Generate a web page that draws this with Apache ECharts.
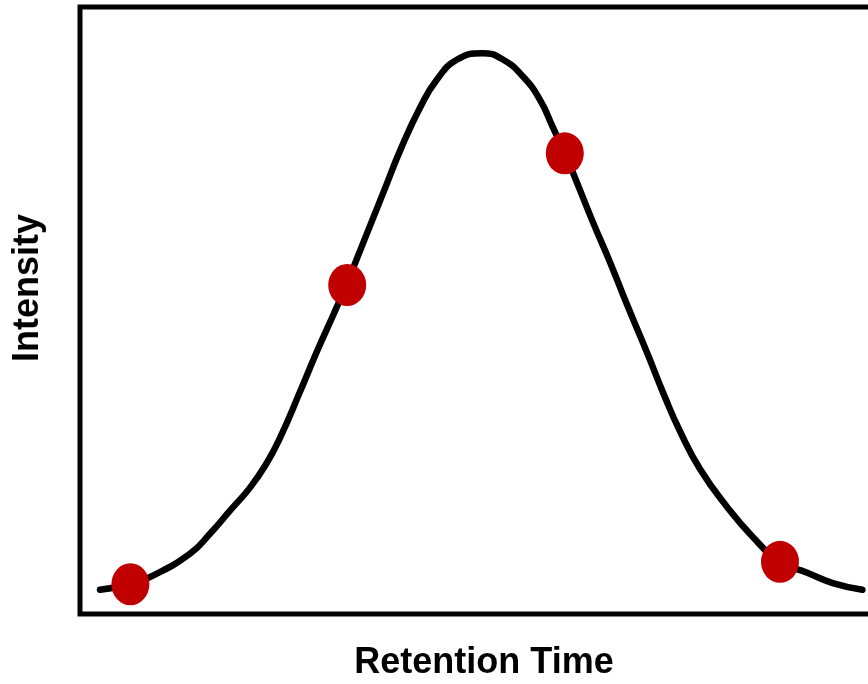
<!DOCTYPE html>
<html>
<head>
<meta charset="utf-8">
<script src="https://cdn.jsdelivr.net/npm/echarts@6/dist/echarts.min.js"></script>
<style>
  html, body { margin: 0; padding: 0; background: #ffffff; }
  #chart { width: 868px; height: 684px; }
</style>
</head>
<body>
<div id="chart"></div>
<script>
// Chromatographic peak: retention time (arbitrary units) vs. intensity (%)
const peakTime = [2.5, 6.3, 8.8, 13.8, 16.3, 18.8, 21.3, 23.4, 25.0, 27.5, 29.6, 31.6, 33.4, 34.6,
  36.3, 38.3, 40.0, 42.5, 44.6, 47.1, 50.3, 52.9, 55.4, 57.5, 59.1, 60.6, 61.9, 64.1, 66.3, 68.4,
  70.9, 73.0, 75.0, 77.5, 80.9, 84.1, 87.5, 90.9, 94.1, 97.8];
const peakIntensity = [4.0, 4.9, 6.1, 10.0, 13.3, 17.1, 20.9, 25.0, 29.0, 36.6, 43.2, 49.1, 54.5, 58.5,
  64.1, 70.7, 76.3, 83.4, 88.0, 91.3, 92.4, 91.3, 88.5, 84.7, 80.2, 75.9, 71.8, 64.6, 57.8, 50.9,
  43.0, 36.1, 30.1, 23.9, 17.6, 12.7, 8.6, 6.8, 5.1, 4.0];

// Sampled acquisition points across the peak
const sampleTime = [6.3, 33.4, 60.6, 87.5];
const sampleIntensity = [4.9, 54.2, 75.9, 8.6];

const xLabel = 'Retention Time';
const yLabel = 'Intensity';

const chart = echarts.init(document.getElementById('chart'), null, { renderer: 'canvas' });

const hidden = {
  axisTick: { show: false },
  axisLabel: { show: false },
  splitLine: { show: false },
  axisLine: { show: false }
};

chart.setOption({
  animation: false,
  backgroundColor: '#ffffff',
  grid: {
    left: 80, right: -20, top: 7, bottom: 70,
    containLabel: false,
    outerBoundsMode: 'none',
    show: true,
    borderColor: '#000000',
    borderWidth: 5,
    backgroundColor: 'transparent'
  },
  xAxis: Object.assign({
    type: 'value', min: 0, max: 101,
    name: xLabel,
    nameLocation: 'middle',
    nameGap: 31,
    nameTextStyle: {
      fontFamily: 'Liberation Sans, Arial, sans-serif',
      fontWeight: 'bold', fontSize: 36, color: '#000000'
    }
  }, hidden),
  yAxis: Object.assign({ type: 'value', min: 0, max: 100 }, hidden),
  graphic: [{
    type: 'text',
    x: 28, y: 288,
    rotation: Math.PI / 2,
    style: {
      text: yLabel,
      fontFamily: 'Liberation Sans, Arial, sans-serif',
      fontWeight: 'bold', fontSize: 36, fill: '#000000',
      align: 'center', verticalAlign: 'middle'
    }
  }],
  series: [
    {
      type: 'line',
      data: peakTime.map((t, i) => [t, peakIntensity[i]]),
      smooth: 0.5,
      showSymbol: false,
      lineStyle: { color: '#000000', width: 6.5, cap: 'round', join: 'round' },
      z: 2
    },
    {
      type: 'scatter',
      data: sampleTime.map((t, i) => [t, sampleIntensity[i]]),
      symbol: 'circle',
      symbolSize: [38, 42],
      itemStyle: { color: '#C00000', opacity: 1 },
      z: 3
    }
  ]
});
</script>
</body>
</html>
